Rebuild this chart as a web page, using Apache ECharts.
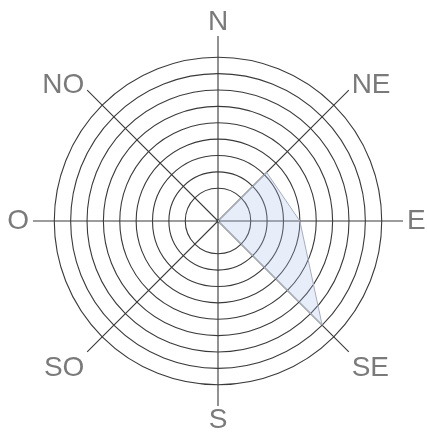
<!DOCTYPE html>
<html>
<head>
<meta charset="utf-8">
<script src="https://cdn.jsdelivr.net/npm/echarts@6/dist/echarts.min.js"></script>
<style>
html,body{margin:0;padding:0;background:#fff;}
#c{width:427px;height:437px;}
</style>
</head>
<body>
<div id="c"></div>
<script>
// Directions (clockwise from North) and their angles in degrees
const directions = ['N', 'NE', 'E', 'SE', 'S', 'SO', 'O', 'NO'];
const angles = [0, 45, 90, 135, 180, 225, 270, 315];
// Series values per direction (ring units)
const values = [0, 4.2, 5, 9, 0, 0, 0, 0];
// Visible rings (radius values)
const ringValues = [2, 3, 4, 5, 6, 7, 8, 9, 10];
const radiusMax = 11.3;

const ringColors = [];
for (let v = 0; v <= 12; v++) {
  ringColors.push(ringValues.indexOf(v) >= 0 ? '#3a3a3a' : 'rgba(0,0,0,0)');
}
const seriesData = values.map((v, i) => [v, angles[i]]);

const labelKey = { N: 'n', NE: 'up', NO: 'up', E: 'mid', O: 'mid', S: 's', SE: 'low', SO: 'low' };
const base = { fontSize: 28, fontFamily: 'Liberation Sans', color: '#7a7a7a' };

const chart = echarts.init(document.getElementById('c'), null, {renderer: 'canvas'});
chart.setOption({
  backgroundColor: '#ffffff',
  animation: false,
  polar: { center: [218, 221], radius: 185 },
  angleAxis: {
    type: 'value',
    min: 0,
    max: 360,
    interval: 45,
    startAngle: 90,
    clockwise: true,
    axisLine: { show: false },
    axisTick: { show: false },
    axisLabel: {
      show: true,
      margin: 4,
      fontSize: 28,
      fontFamily: 'Liberation Sans',
      color: '#7a7a7a',
      formatter: function (v) {
        if (v >= 360) return '';
        const idx = angles.indexOf(v);
        if (idx < 0) return '';
        const d = directions[idx];
        return '{' + labelKey[d] + '|' + d + '}';
      },
      rich: {
        n: Object.assign({ lineHeight: 20 }, base),
        up: Object.assign({ lineHeight: 4 }, base),
        mid: Object.assign({ lineHeight: 28 }, base),
        s: Object.assign({ lineHeight: 20 }, base),
        low: Object.assign({ lineHeight: 28 }, base)
      }
    },
    splitLine: { show: true, lineStyle: { color: '#3a3a3a', width: 1.1 } }
  },
  radiusAxis: {
    type: 'value',
    min: 0,
    max: radiusMax,
    interval: 1,
    axisLine: { show: false },
    axisTick: { show: false },
    axisLabel: { show: false },
    splitLine: { show: true, lineStyle: { color: ringColors, width: 1.1 } }
  },
  series: [{
    type: 'line',
    coordinateSystem: 'polar',
    data: seriesData,
    symbol: 'none',
    lineStyle: { color: '#a6adbd', width: 1 },
    areaStyle: { color: 'rgba(170,192,232,0.38)' },
    z: 3
  }]
});
</script>
</body>
</html>
